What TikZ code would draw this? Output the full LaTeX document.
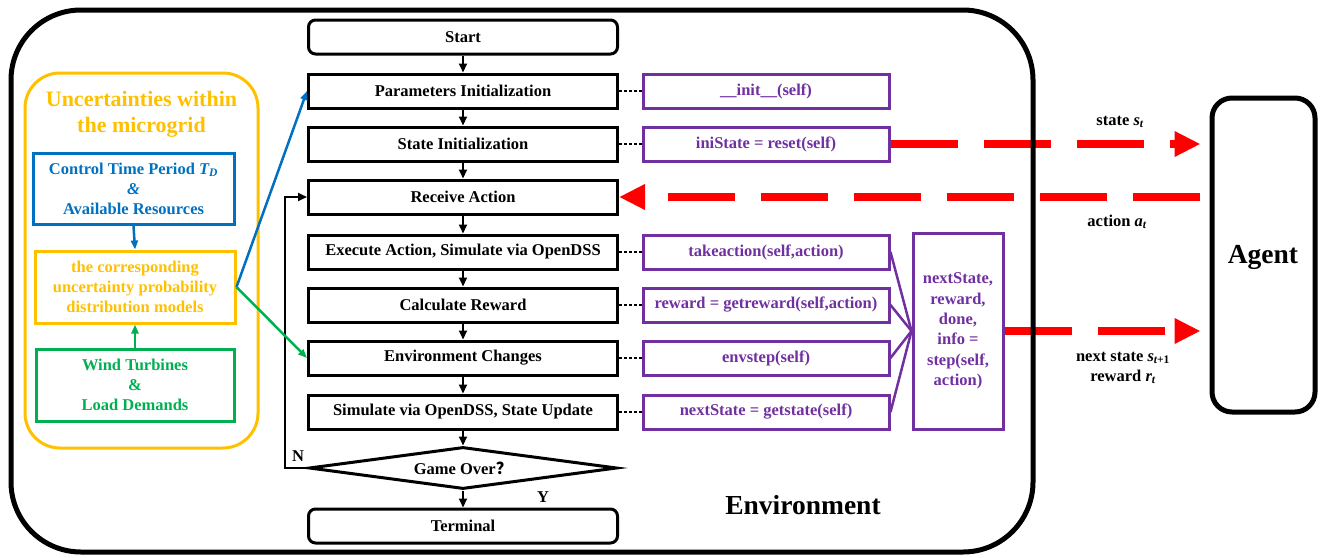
\documentclass[tikz,border=0pt]{standalone}
\usepackage{fontspec}
\setmainfont{Liberation Serif}
\newfontfamily\cjk{Noto Sans CJK SC}
\usetikzlibrary{arrows.meta,shapes.geometric}
\definecolor{codepurple}{HTML}{7030A0}
\definecolor{unyellow}{HTML}{FFC000}
\definecolor{ctblue}{HTML}{0070C0}
\definecolor{wtgreen}{HTML}{00B050}
\definecolor{sigred}{HTML}{FF0000}
\tikzset{
  basefont/.style={font=\bfseries\fontsize{16.5}{20}\selectfont},
  flowbox/.style={draw, line width=3pt, minimum width=309pt, minimum height=34pt, inner sep=0pt},
  termbox/.style={flowbox, rounded corners=7pt},
  codebox/.style={draw=codepurple, text=codepurple, line width=3pt, minimum width=246pt, minimum height=34pt, inner sep=0pt},
  flowarrow/.style={-{Triangle[length=9pt,width=8pt]}, line width=2pt},
  dotlink/.style={line width=2.5pt, dash pattern=on 2.5pt off 2.5pt},
  fanline/.style={codepurple, line width=2.5pt},
  sigarrow/.style={-{Triangle[length=26pt,width=24pt]}, line width=8pt, sigred, dash pattern=on 67pt off 26pt},
  ctarrow/.style={-{Triangle[length=9pt,width=7pt]}, line width=2.5pt},
  bigfont/.style={font=\bfseries\fontsize{27.5}{32}\selectfont},
}
\begin{document}
\begin{tikzpicture}[x=1pt, y=-1pt, basefont]
\useasboundingbox (0,0) rectangle (1324,557);

% ---- uncertainty panel ----
\node[draw=unyellow, line width=3pt, rounded corners=35pt, minimum width=233pt, minimum height=375pt, inner sep=0pt] (unc) at (141.5,260.5) {};
\node[text=unyellow, align=center, font=\bfseries\fontsize{22}{26}\selectfont] (unctitle) at (141.5,114) {Uncertainties within\\the microgrid};
\node[draw=ctblue, text=ctblue, line width=3pt, minimum width=201pt, minimum height=71pt, inner sep=0pt, align=center] (ctp) at (133.5,188.5)
  {Control Time Period {\itshape T}\textsubscript{\itshape D}\\{\itshape\&}\\Available Resources};
\node[draw=unyellow, text=unyellow, line width=3pt, minimum width=200pt, minimum height=72pt, inner sep=0pt, align=center] (prob) at (135,287)
  {the corresponding\\uncertainty probability\\distribution models};
\node[draw=wtgreen, text=wtgreen, line width=3pt, minimum width=198pt, minimum height=72pt, inner sep=0pt, align=center] (wtl) at (135,385)
  {Wind Turbines\\\&\\Load Demands};
\draw[ctarrow, ctblue] (ctp.south) -- (prob.north);
\draw[ctarrow, wtgreen] (wtl.north) -- (prob.south);

% ---- flowchart ----
\node[termbox] (start) at (463,37) {Start};
\node[flowbox] (params) at (463,91) {Parameters Initialization};
\node[flowbox] (stinit) at (463,144) {State Initialization};
\node[flowbox] (recv) at (463,197) {Receive Action};
\node[flowbox] (exec) at (463,252) {Execute Action, Simulate via OpenDSS};
\node[flowbox] (calc) at (463,305) {Calculate Reward};
\node[flowbox] (envch) at (463,358) {Environment Changes};
\node[flowbox] (simu) at (463,412) {Simulate via OpenDSS, State Update};
\node[draw, shape=diamond, shape aspect=7.33, line width=3pt, minimum width=308pt, minimum height=42pt, inner sep=0pt] (over) at (463,468) {Game Over{\cjk ？}};
\node[termbox] (term) at (463,526) {Terminal};

\draw[flowarrow] (start) -- (params);
\draw[flowarrow] (params) -- (stinit);
\draw[flowarrow] (stinit) -- (recv);
\draw[flowarrow] (recv) -- (exec);
\draw[flowarrow] (exec) -- (calc);
\draw[flowarrow] (calc) -- (envch);
\draw[flowarrow] (envch) -- (simu);
\draw[flowarrow] (simu) -- (over);
\draw[flowarrow] (over) -- (term);
\coordinate (loopx) at (285,468);
\draw[flowarrow] (over.west) -- (loopx) |- (recv.west);
\node (nlab) at (298,456) {N};
\node (ylab) at (543,497) {Y};

\draw[ctarrow, ctblue] (prob.east) -- (params.west);
\draw[ctarrow, wtgreen] (prob.east) -- (envch.west);

% ---- environment methods ----
\node[codebox] (pinit) at (766,91) {\_\_init\_\_(self)};
\node[codebox] (reset) at (766,144) {iniState = reset(self)};
\node[codebox] (take) at (766,252) {takeaction(self,action)};
\node[codebox] (getrew) at (766,305) {reward = getreward(self,action)};
\node[codebox] (envst) at (766,358) {envstep(self)};
\node[codebox] (getst) at (766,412) {nextState = getstate(self)};
\node[draw=codepurple, text=codepurple, line width=3pt, minimum width=90pt, minimum height=196pt, inner sep=0pt, align=center,
  font=\bfseries\fontsize{16.5}{20.3}\selectfont] (step) at (958,331)
  {nextState,\\reward,\\done,\\info =\\step(self,\\action)};

\draw[dotlink] (params.east) -- (pinit.west);
\draw[dotlink] (stinit.east) -- (reset.west);
\draw[dotlink] (exec.east) -- (take.west);
\draw[dotlink] (calc.east) -- (getrew.west);
\draw[dotlink] (envch.east) -- (envst.west);
\draw[dotlink] (simu.east) -- (getst.west);

\draw[fanline] (take.east) -- (step.west);
\draw[fanline] (getrew.east) -- (step.west);
\draw[fanline] (envst.east) -- (step.west);
\draw[fanline] (getst.east) -- (step.west);

% ---- agent and signals ----
\node[draw, line width=5pt, rounded corners=20pt, minimum width=103pt, minimum height=314pt, inner sep=0pt] (agent) at (1263.5,255) {};
\node[bigfont] (agentlab) at (1263,257) {Agent};

\draw[sigarrow, shorten >=9pt] (reset.east) -- (reset.east -| agent.west);
\draw[sigarrow, shorten <=10pt] (recv.east -| agent.west) -- (recv.east);
\draw[sigarrow, shorten >=9pt] (step.east) -- (step.east -| agent.west);

\node (stlab) at (1120,122) {state {\itshape s}\textsubscript{\itshape t}};
\node (aclab) at (1117,222) {action {\itshape a}\textsubscript{\itshape t}};
\node[align=center] (nslab) at (1123,368) {next state {\itshape s}\textsubscript{{\itshape t}+1}\\reward {\itshape r}\textsubscript{\itshape t}};

% ---- environment frame ----
\node[draw, line width=5pt, rounded corners=70pt, minimum width=1022pt, minimum height=542pt, inner sep=0pt] (env) at (522,281) {};
\node[bigfont] (envlab) at (803,505) {Environment};
\end{tikzpicture}
\end{document}
